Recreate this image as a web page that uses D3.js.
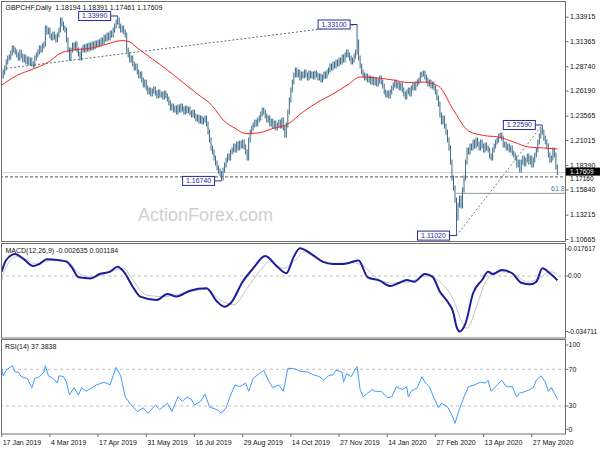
<!DOCTYPE html>
<html>
<head>
<meta charset="utf-8">
<script src="https://cdn.jsdelivr.net/npm/d3@7"></script>
<style>
body { margin: 0; background: #fff; }
text { font-family: "Liberation Sans", Arial, sans-serif; }
</style>
</head>
<body>
<script>
// GBPCHF daily closes, 17 Jan 2019 .. 19 Jun 2020
var closes = [
1.2771,1.2813,1.2855,1.2917,1.2959,1.2970,1.3012,1.3064,1.3043,1.3022,
1.2991,1.2959,1.3022,1.2980,1.2938,1.2970,1.2917,1.2949,1.2907,1.2938,1.2897,1.2886,
1.2959,1.2991,1.3022,1.3064,1.3043,1.3085,1.3106,
1.3273,1.3231,1.3252,1.3189,1.3169,1.3210,1.3179,1.3148,1.3200,1.3252,
1.3357,1.3315,1.3273,1.3252,
1.3148,1.3043,1.2959,1.3043,1.3095,
1.3064,1.3106,1.3043,1.3001,1.2959,1.3043,1.3074,1.3043,1.3085,1.3053,1.3095,1.3064,1.3106,1.3074,1.3116,1.3095,1.3127,1.3106,
1.3148,1.3127,1.3179,1.3158,1.3200,1.3169,1.3221,1.3200,1.3252,1.3294,
1.3336,1.3357,1.3294,1.3252,1.3273,1.3231,1.3200,
1.3043,1.2991,1.2938,1.2959,1.2897,1.2855,1.2876,1.2813,
1.2771,1.2792,1.2729,1.2677,1.2708,1.2646,1.2604,
1.2625,1.2583,1.2614,1.2635,1.2593,1.2562,1.2604,1.2572,1.2583,1.2551,1.2593,1.2562,1.2530,
1.2489,1.2436,1.2457,1.2415,
1.2436,1.2394,1.2447,1.2415,1.2457,1.2426,1.2394,1.2436,1.2405,1.2426,1.2384,1.2363,1.2394,
1.2353,1.2321,1.2342,1.2300,1.2332,1.2290,1.2311,1.2332,1.2269,
1.2185,1.2102,1.2018,1.1976,
1.1913,1.1861,1.1809,1.1777,1.1750,1.1705,
1.1788,1.1840,1.1892,1.1934,1.1913,1.1976,1.1997,
1.2039,1.1997,1.2060,1.2018,1.2070,1.2039,1.2081,1.2028,1.1976,1.1913,
1.2102,1.2185,1.2227,1.2259,1.2290,1.2269,1.2311,
1.2332,1.2374,1.2415,1.2394,1.2353,1.2311,
1.2332,1.2269,1.2300,1.2248,1.2279,1.2227,1.2259,1.2290,1.2248,
1.2311,1.2227,1.2154,1.2259,
1.2394,1.2520,1.2625,1.2708,1.2782,1.2834,
1.2782,1.2813,1.2750,1.2792,1.2771,1.2813,1.2782,1.2750,1.2802,1.2771,1.2792,1.2761,1.2802,1.2782,1.2750,1.2771,1.2729,1.2761,1.2792,1.2771,1.2813,
1.2834,1.2876,1.2855,1.2897,1.2876,1.2917,1.2897,1.2938,1.2917,1.2970,1.2938,1.2991,1.3022,
1.2991,1.2959,1.2917,1.2938,1.2980,1.3022,1.3127,1.2959,1.2876,
1.2813,1.2782,1.2750,1.2771,1.2729,1.2750,1.2708,1.2740,1.2698,1.2729,1.2687,1.2719,1.2750,1.2708,1.2666,1.2604,1.2572,1.2593,
1.2562,1.2604,1.2646,1.2677,1.2708,1.2666,1.2687,1.2646,1.2677,1.2625,1.2583,1.2551,1.2604,1.2625,1.2583,1.2646,1.2677,1.2646,1.2687,1.2708,
1.2729,1.2782,1.2792,1.2802,1.2761,1.2729,
1.2687,1.2708,1.2666,1.2687,1.2646,
1.2604,1.2541,1.2478,1.2363,1.2290,1.2332,1.2248,1.2185,1.2102,
1.2018,1.1871,1.1704,
1.1600,1.1474,1.1286,1.1422,1.1495,1.1411,1.1579,1.1704,1.1871,1.1997,1.1976,1.2039,1.2018,
1.2081,1.2039,1.2102,1.2060,1.2018,1.2081,1.2039,1.1997,1.2049,1.2018,
1.1997,1.1934,1.1913,1.1997,1.2039,1.2081,
1.2102,1.2143,1.2154,1.2122,1.2049,
1.2060,1.2018,1.2039,1.1997,1.2018,1.1966,1.1945,
1.1913,1.1840,1.1871,1.1788,
1.1871,1.1913,1.1851,1.1892,1.1934,1.1871,1.1913,1.1840,1.1892,1.1945,
1.1997,1.2081,1.2143,1.2206,1.2185,
1.2122,1.2081,1.2039,
1.1945,1.1892,1.1913,
1.1997,1.1945,1.1819,1.1761
];

// marked swing highs / lows: [bar index, price]
var swings = [[77, 1.3399], [146, 1.1674], [236, 1.3310], [302, 1.1102], [359, 1.2259]];

// moving average (red), [bar index, value]
var maPoints = [[0,1.2677],[10,1.2776],[20,1.2839],[30,1.2907],[40,1.3017],[50,1.3048],[60,1.3064],[70,1.3106],[80,1.3142],[85,1.3127],[90,1.3066],
  [100,1.2949],[110,1.2834],[120,1.2708],[130,1.2583],[140,1.2457],[147,1.2311],[155,1.2225],[162,1.2170],[170,1.2175],[180,1.2222],[190,1.2269],
  [200,1.2394],[210,1.2499],[220,1.2583],[230,1.2682],[238,1.2761],[250,1.2750],[260,1.2729],[270,1.2703],[280,1.2708],[290,1.2666],
  [300,1.2415],[310,1.2196],[320,1.2149],[330,1.2133],[340,1.2081],[350,1.2028],[360,1.2018],[369,1.2007]];

var macdMain = [[0,0.0027],[3,0.0100],[9,0.0137],[14,0.0110],[21,0.0062],[25,0.0075],[30,0.0104],[37,0.0100],[43,0.0090],[47,0.0048],
  [51,-0.0008],[59,-0.0015],[65,0.0012],[72,0.0027],[77,0.0058],[81,0.0027],[87,-0.0067],[92,-0.0129],[103,-0.0150],[110,-0.0112],
  [116,-0.0129],[125,-0.0092],[136,-0.0077],[143,-0.0160],[148,-0.0192],[152,-0.0171],[160,-0.0036],[167,0.0048],[175,0.0125],[183,0.0058],
  [189,0.0017],[194,0.0121],[198,0.0174],[205,0.0142],[213,0.0090],[220,0.0075],[227,0.0075],[231,0.0083],[237,0.0096],[243,-0.0008],
  [251,-0.0029],[258,-0.0063],[264,-0.0042],[269,-0.0025],[274,-0.0036],[281,0.0012],[286,-0.0004],[291,-0.0098],[296,-0.0160],[300,-0.0233],
  [302,-0.0317],[304,-0.0347],[308,-0.0296],[313,-0.0108],[319,-0.0025],[323,0.0027],[326,0.0012],[332,0.0037],[339,0.0017],[345,-0.0042],
  [351,-0.0052],[355,-0.0036],[359,0.0048],[364,0.0017],[369,-0.002635]];

var macdSignal = [[0,-0.0025],[3,0.0058],[10,0.0121],[17,0.0100],[23,0.0075],[32,0.0096],[43,0.0096],[50,0.0027],[59,-0.0008],[70,0.0017],
  [81,0.0048],[87,-0.0025],[96,-0.0119],[107,-0.0129],[120,-0.0108],[136,-0.0083],[145,-0.0150],[154,-0.0181],[163,-0.0077],[172,0.0037],
  [178,0.0090],[187,0.0048],[196,0.0110],[200,0.0152],[211,0.0100],[220,0.0079],[233,0.0083],[241,0.0058],[249,-0.0015],[260,-0.0046],
  [271,-0.0036],[282,0.0000],[291,-0.0036],[300,-0.0150],[306,-0.0296],[309,-0.0327],[316,-0.0171],[322,-0.0025],[331,0.0027],[339,0.0017],
  [349,-0.0036],[357,-0.0015],[364,0.0027],[369,0.001184]];

var rsiPts = [[0,71],[1,63],[3,69],[7,74],[9,67],[11,67],[13,62],[17,60],[20,50],[22,60],[25,62],[28,67],[29,74],[31,63],[34,60],[37,55],[38,63],
  [41,62],[43,56],[45,42],[48,50],[51,42],[53,50],[56,46],[60,50],[63,53],[68,56],[72,53],[74,63],[76,72],[79,63],[82,40],[85,33],[90,24],
  [94,28],[97,22],[102,31],[105,26],[110,33],[113,24],[117,40],[120,35],[123,40],[126,37],[128,31],[132,35],[135,43],[138,29],[143,26],
  [146,22],[149,28],[152,42],[155,53],[158,51],[162,55],[164,46],[167,60],[170,64],[174,69],[177,58],[180,50],[184,53],[187,46],[190,71],
  [194,71],[198,68],[203,67],[207,64],[211,62],[214,58],[217,63],[220,64],[222,69],[226,67],[227,56],[229,65],[232,62],[236,73],[238,48],
  [240,40],[243,44],[246,48],[248,46],[252,46],[256,39],[259,40],[262,51],[266,48],[269,51],[270,40],[272,46],[276,50],[279,62],[281,56],
  [284,51],[287,39],[290,28],[292,33],[296,29],[299,20],[301,11],[303,22],[307,40],[310,51],[314,53],[318,56],[321,55],[323,58],[325,46],
  [329,53],[332,58],[335,51],[339,51],[342,40],[344,44],[348,46],[351,48],[353,50],[355,58],[358,63],[361,56],[363,46],[365,50],[369,37.38]];

var priceTicks = [1.33915, 1.31365, 1.28740, 1.26190, 1.23565, 1.21015, 1.18390, 1.15840, 1.13215, 1.10665];
var macdTicks = [0.017617, 0, -0.034711];
var rsiTicks = [100, 70, 30, 0];
var rsiLevels = [70, 30];
var dateLabels = ["17 Jan 2019", "4 Mar 2019", "17 Apr 2019", "31 May 2019", "16 Jul 2019", "29 Aug 2019",
  "14 Oct 2019", "27 Nov 2019", "14 Jan 2020", "27 Feb 2020", "13 Apr 2020", "27 May 2020"];
var barsPerLabel = 32;

var lastPrice = 1.17609;
var hLevel = 1.17160;
var trendLine = [[3, 1.2851], [236, 1.3310]];
var fiboFrom = [302, 1.1102], fiboTo = [359, 1.2259];
var fibo618 = fiboTo[1] - 0.618 * (fiboTo[1] - fiboFrom[1]);

var width = 600, height = 450;
var right = 565.5;

var svg = d3.select("body").append("svg")
    .attr("width", width)
    .attr("height", height);

var x = d3.scaleLinear().domain([0, closes.length - 1]).range([1.7, 557.4]);
var y = d3.scaleLinear().domain([1.10665, 1.33915]).range([239, 16.7]);
var yMacd = d3.scaleLinear().domain([-0.034711, 0.017617]).range([331.5, 247.8]);
var yRsi = d3.scaleLinear().domain([0, 100]).range([433.5, 341.8]);

var panels = [
  {id: "pMain", top: 1.5, bottom: 241.5},
  {id: "pMacd", top: 243.5, bottom: 338},
  {id: "pRsi", top: 339.5, bottom: 434}
];

var defs = svg.append("defs");
panels.forEach(function(p) {
  defs.append("clipPath").attr("id", p.id)
    .append("rect").attr("x", 2).attr("y", p.top + 0.5)
    .attr("width", right - 2.5).attr("height", p.bottom - p.top - 1);
});

// watermark
svg.append("text")
  .attr("x", 138).attr("y", 221)
  .attr("font-size", 18)
  .attr("fill", "#cfcfcf")
  .text("ActionForex.com");

var gMain = svg.append("g").attr("clip-path", "url(#pMain)");

// last price line and horizontal level
gMain.append("line")
  .attr("x1", 0).attr("x2", right)
  .attr("y1", y(lastPrice)).attr("y2", y(lastPrice))
  .attr("stroke", "#cfcfcf").attr("stroke-width", 1);

gMain.append("line")
  .attr("x1", 0).attr("x2", right)
  .attr("y1", y(hLevel)).attr("y2", y(hLevel))
  .attr("stroke", "#555").attr("stroke-width", 1)
  .attr("stroke-dasharray", "3,2");

// trendline
gMain.append("line")
  .attr("x1", x(trendLine[0][0])).attr("y1", y(trendLine[0][1]))
  .attr("x2", x(trendLine[1][0])).attr("y2", y(trendLine[1][1]))
  .attr("stroke", "#5b7272").attr("stroke-width", 1)
  .attr("stroke-dasharray", "2,2");

// fibo
gMain.append("line")
  .attr("x1", x(fiboFrom[0])).attr("y1", y(fiboFrom[1]))
  .attr("x2", x(fiboTo[0])).attr("y2", y(fiboTo[1]))
  .attr("stroke", "#777").attr("stroke-width", 1)
  .attr("stroke-dasharray", "2,2");

gMain.append("line")
  .attr("x1", x(fiboFrom[0])).attr("x2", right)
  .attr("y1", y(fibo618)).attr("y2", y(fibo618))
  .attr("stroke", "#8a9aa6").attr("stroke-width", 1);

svg.append("text")
  .attr("x", 551).attr("y", y(fibo618) - 2)
  .attr("font-size", 7).attr("fill", "#4d7a9c")
  .text("61.8");

// OHLC bars: open is the previous close
var bars = closes.map(function(c, i) {
  var o = i > 0 ? closes[i - 1] : c;
  var b = {i: i, hi: Math.max(o, c), lo: Math.min(o, c), hiSwing: false, loSwing: false};
  swings.forEach(function(s) {
    if (s[0] === i) {
      if (s[1] > b.hi) { b.hi = s[1]; b.hiSwing = true; }
      if (s[1] < b.lo) { b.lo = s[1]; b.loSwing = true; }
    }
  });
  return b;
});

gMain.append("g")
  .selectAll("line")
  .data(bars)
  .enter().append("line")
  .attr("x1", function(d) { return x(d.i); })
  .attr("x2", function(d) { return x(d.i); })
  .attr("y1", function(d) { return y(d.hi) - (d.hiSwing ? 0 : 2.5); })
  .attr("y2", function(d) { return y(d.lo) + (d.loSwing ? 0 : 2.5); })
  .attr("stroke", "#3a6a88")
  .attr("stroke-width", 1);

// moving average
gMain.append("path")
  .datum(maPoints)
  .attr("fill", "none")
  .attr("stroke", "#f02828")
  .attr("stroke-width", 1)
  .attr("d", d3.line()
    .x(function(d) { return x(d[0]); })
    .y(function(d) { return y(d[1]); })
    .curve(d3.curveMonotoneX));

// swing labels
var fmt5 = d3.format(".5f");
var swingG = svg.append("g").selectAll("g").data(swings).enter().append("g");
swingG.append("line")
  .attr("x1", function(d) { return x(d[0]) - 7; })
  .attr("x2", function(d) { return x(d[0]); })
  .attr("y1", function(d) { return y(d[1]); })
  .attr("y2", function(d) { return y(d[1]); })
  .attr("stroke", "#2a2a9a");
swingG.append("rect")
  .attr("x", function(d) { return x(d[0]) - 39; })
  .attr("y", function(d) { return y(d[1]) - 4.5; })
  .attr("width", 32).attr("height", 9)
  .attr("fill", "#fff").attr("stroke", "#2a2a9a").attr("stroke-width", 1);
swingG.append("text")
  .attr("x", function(d) { return x(d[0]) - 23; })
  .attr("y", function(d) { return y(d[1]); })
  .attr("dy", "0.35em")
  .attr("text-anchor", "middle")
  .attr("font-size", 7)
  .attr("fill", "#1f1f8f")
  .text(function(d) { return fmt5(d[1]); });

// MACD panel
var gMacd = svg.append("g").attr("clip-path", "url(#pMacd)");
gMacd.append("line")
  .attr("x1", 0).attr("x2", right)
  .attr("y1", yMacd(0)).attr("y2", yMacd(0))
  .attr("stroke", "#bdbdbd").attr("stroke-dasharray", "3,3");

gMacd.append("path")
  .datum(macdSignal)
  .attr("fill", "none").attr("stroke", "#c4c4c4").attr("stroke-width", 1)
  .attr("d", d3.line()
    .x(function(d) { return x(d[0]); })
    .y(function(d) { return yMacd(d[1]); })
    .curve(d3.curveMonotoneX));

gMacd.append("path")
  .datum(macdMain)
  .attr("fill", "none").attr("stroke", "#1c1c9c").attr("stroke-width", 2)
  .attr("d", d3.line()
    .x(function(d) { return x(d[0]); })
    .y(function(d) { return yMacd(d[1]); })
    .curve(d3.curveMonotoneX));

// RSI panel
var gRsi = svg.append("g").attr("clip-path", "url(#pRsi)");
gRsi.selectAll("line.lvl")
  .data(rsiLevels)
  .enter().append("line")
  .attr("class", "lvl")
  .attr("x1", 0).attr("x2", right)
  .attr("y1", function(d) { return yRsi(d); })
  .attr("y2", function(d) { return yRsi(d); })
  .attr("stroke", "#bdbdbd").attr("stroke-dasharray", "3,3");

gRsi.append("path")
  .datum(rsiPts)
  .attr("fill", "none").attr("stroke", "#3d9bff").attr("stroke-width", 1)
  .attr("d", d3.line()
    .x(function(d) { return x(d[0]); })
    .y(function(d) { return yRsi(d[1]); }));

// panel frames
panels.forEach(function(p) {
  svg.append("rect")
    .attr("x", 1.5).attr("y", p.top)
    .attr("width", right - 1.5).attr("height", p.bottom - p.top)
    .attr("fill", "none").attr("stroke", "#6e6e6e").attr("stroke-width", 1);
});

// right axes
function rightAxis(scale, ticks, fmt, labelX, size, shift) {
  var g = svg.append("g").attr("transform", "translate(" + right + ",0)");
  g.call(d3.axisRight(scale).tickValues(ticks).tickSize(3).tickFormat(fmt));
  g.select(".domain").remove();
  g.selectAll(".tick line").attr("stroke", "#6e6e6e");
  g.selectAll(".tick text")
    .attr("x", labelX)
    .attr("font-family", "Liberation Sans, Arial, sans-serif")
    .attr("font-size", size)
    .attr("fill", "#111");
  if (shift) {
    g.selectAll(".tick").attr("transform", function(d) { return "translate(0," + shift(d) + ")"; });
  }
  return g;
}

rightAxis(y, priceTicks, d3.format(".5f"), 4.5, 7);
rightAxis(yMacd, macdTicks,
  function(d) { return d === 0 ? "0.00" : d3.format(".6f")(d).replace("\u2212", "-"); },
  2.5, 6.6,
  function(d) { return d > 0 ? Math.max(yMacd(d), 249) : d < 0 ? Math.min(yMacd(d), 332.7) : yMacd(d); });
rightAxis(yRsi, rsiTicks, d3.format("d"), 3, 7,
  function(d) { return d === 100 ? 345 : d === 0 ? 429.3 : yRsi(d); });

// current price tag and level tag
svg.append("rect")
  .attr("x", right + 0.5).attr("y", y(lastPrice) - 5)
  .attr("width", 34).attr("height", 8).attr("fill", "#000");
svg.append("text")
  .attr("x", right + 4.5).attr("y", y(lastPrice) - 1).attr("dy", "0.3em")
  .attr("font-size", 6.5).attr("fill", "#fff")
  .text(fmt5(lastPrice));
svg.append("text")
  .attr("x", right + 4.5).attr("y", y(hLevel) + 1.6).attr("dy", "0.35em")
  .attr("font-size", 6.5).attr("fill", "#000")
  .text(fmt5(hLevel));

// bottom date axis
var dateG = svg.append("g").selectAll("g")
  .data(dateLabels)
  .enter().append("g")
  .attr("transform", function(d, k) { return "translate(" + x(k * barsPerLabel) + ",434)"; });
dateG.append("line").attr("y1", 0).attr("y2", 3).attr("stroke", "#6e6e6e");
dateG.append("text")
  .attr("x", 1).attr("y", 10.5)
  .attr("font-size", 7).attr("fill", "#111")
  .text(function(d) { return d; });

// titles
svg.append("text")
  .attr("x", 5.5).attr("y", 9.5)
  .attr("font-size", 7).attr("fill", "#111")
  .text("GBPCHF,Daily\u00a0\u00a01.18194 1.18391 1.17461 1.17609");
svg.append("text")
  .attr("x", 5.5).attr("y", 252.5)
  .attr("font-size", 7).attr("fill", "#111")
  .text("MACD(12,26,9) -0.002635 0.001184");
svg.append("text")
  .attr("x", 5).attr("y", 349)
  .attr("font-size", 7).attr("fill", "#111")
  .text("RSI(14) 37.3838");
</script>
</body>
</html>
